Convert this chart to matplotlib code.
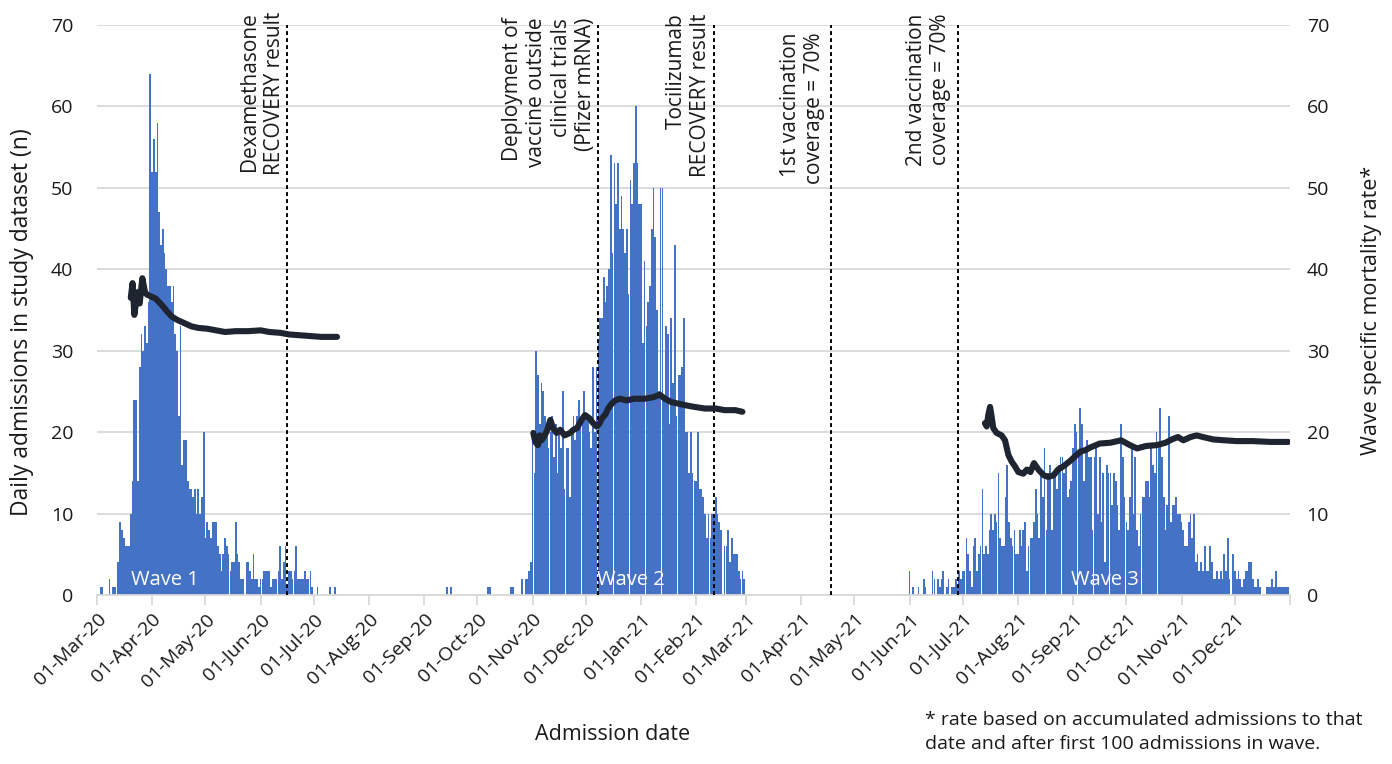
import pandas as pd
import matplotlib
matplotlib.use("Agg")
import matplotlib.pyplot as plt

plt.rcParams['font.family'] = ['Open Sans', 'DejaVu Sans']

# daily admissions (n), each list starts at its start date
wave1_start = "2020-03-03"
wave1_admissions = [
    1, 1, 0, 0, 0, 2, 0, 1, 1, 0,
    4, 9, 8, 7, 6, 6, 6, 10, 14, 24,
    24, 14, 28, 32, 30, 33, 31, 36, 64, 52,
    56, 52, 58, 47, 43, 45, 42, 40, 38, 38,
    36, 38, 32, 30, 22, 33, 16, 19, 19, 14,
    13, 13, 12, 13, 10, 13, 10, 12, 20,
    7, 9, 8, 7, 9, 9, 9, 6, 5, 3,
    5, 7, 6, 5, 3, 4, 4, 9, 5, 4,
    2, 2, 0, 4, 4, 3, 2, 5, 2, 2,
    1, 2, 2, 3, 3, 3, 3, 1, 2, 2,
    2, 3, 6, 2, 4, 6, 1, 3, 3, 2,
    3, 6, 2, 2, 2, 2, 3, 2, 2, 3,
    1, 0, 0, 1, 0, 0, 0, 0, 0, 0,
    1, 0, 0, 1,
]

autumn_dates = ["2020-09-14", "2020-09-16", "2020-10-07", "2020-10-08",
                "2020-10-20", "2020-10-21"]
autumn_admissions = [1, 1, 1, 1, 1, 1]

wave2_start = "2020-10-26"
wave2_admissions = [
    2, 0, 2, 2, 3, 4,
    20, 15, 30, 27, 21, 26, 25, 22, 21, 18,
    20, 22, 17, 21, 15, 20, 18, 25, 13, 18,
    18, 12, 20, 22, 19, 22, 24, 21, 22, 25,
    22, 22, 20, 18, 28, 20, 28, 31, 34, 34,
    39, 36, 38, 40, 54, 42, 53, 48, 53, 45,
    49, 45, 42, 45, 37, 51, 48, 53,
    60, 53, 48, 48, 31, 41, 33, 36, 38, 45,
    50, 44, 35, 25, 50, 50, 24, 33, 32, 21,
    34, 26, 43, 22, 27, 27, 28, 34, 20, 20,
    15, 20, 15, 14, 14, 20, 13, 13, 12, 10,
    7, 10, 7, 10, 10, 12, 10, 9, 8, 0,
    6, 6, 8, 4, 7, 5, 5, 5, 3, 2,
    3, 2,
]

wave3_start = "2021-06-01"
wave3_admissions = [
    3, 0, 1, 0, 0, 1, 0, 0, 2, 1, 0, 0, 0, 3, 2, 0, 2, 1, 2, 3,
    0, 1, 2, 0, 1, 1, 2, 1,
    3, 2, 3, 3, 7, 5, 3, 1, 6, 7,
    3, 5, 6, 13, 5, 6, 5, 8, 10, 8,
    10, 9, 15, 7, 6, 6, 12, 16, 9, 7,
    6, 8, 5, 5, 8, 6, 8, 9, 3, 6,
    7, 7, 9, 13, 10, 7, 15, 12, 18, 8,
    15, 16, 8, 15, 15, 13, 16, 17, 17, 15,
    16, 12, 13, 14, 18, 21, 20, 17, 23, 21,
    14, 18, 19,
    17, 17, 8, 17, 18, 10, 17, 9, 15, 4,
    16, 15, 15, 11, 15, 14, 11, 8, 21, 17,
    12, 9, 8, 12, 18, 10, 17, 8, 6, 10,
    12, 12, 14, 14, 12, 18, 16, 15, 20, 18,
    23, 17, 12, 8, 11, 22, 9, 11, 11, 12,
    10, 10, 9, 8, 6, 6, 9, 10, 7, 10,
    4, 5, 3, 4, 3, 6, 3, 3, 6, 4,
    2, 2, 3, 2, 3, 2, 5, 3, 7, 2,
    0, 5, 3, 2, 3, 2, 1, 2, 3, 3,
    4, 4, 2, 1, 1, 2, 1, 0, 0, 0,
    1, 1, 1, 2, 1, 3, 1, 1, 1, 1,
    1, 1, 1,
]

# wave specific mortality rate (%), day = days after 01-Mar-20
wave1_rate_day = [19, 20, 21, 22, 23, 24, 25.5, 27, 28, 30, 33, 36.5, 39.5, 42, 45,
                  49, 53, 57, 62, 67, 72, 78, 85, 92, 97, 103, 108, 114, 120, 126, 135]
wave1_rate = [36.5, 38.3, 34.4, 36.0, 37.2, 35.8, 38.9, 37.2, 36.9, 36.7, 36.4, 35.6,
              34.8, 34.2, 33.8, 33.4, 33.0, 32.8, 32.7, 32.5, 32.3, 32.4, 32.4, 32.5,
              32.3, 32.2, 32.0, 31.9, 31.8, 31.7, 31.7]

wave2_rate_day = [245.4, 246.5, 248, 249, 250, 251, 253, 255, 256.5, 258.5, 260.5, 263,
                  266, 268, 270, 272.5, 274.5, 277, 279, 281, 282.5, 284, 286, 287.5,
                  289.5, 291.5, 294, 298, 302, 305, 308, 313, 316.5, 319.5, 323, 327,
                  331, 336, 342, 348, 353, 359, 363]
wave2_rate = [19.9, 18.8, 18.4, 19.6, 19.0, 19.3, 20.1, 21.5, 20.5, 19.9, 20.3, 19.6,
              19.9, 20.3, 20.5, 21.5, 22.1, 21.7, 21.1, 20.7, 21.0, 21.7, 22.2, 22.9,
              23.5, 23.9, 24.1, 23.9, 24.1, 24.1, 24.1, 24.3, 24.6, 24.1, 23.7, 23.5,
              23.3, 23.1, 22.9, 22.9, 22.7, 22.7, 22.5]

wave3_rate_day = [499.4, 500.4, 501.3, 502.3, 503.2, 504.1, 506, 508.8, 510.7, 512.6,
                  514.4, 516.3, 518.2, 521, 523, 525, 527, 529.5, 532.5, 535, 538,
                  540.5, 543.5, 547, 550, 553, 556, 558.5, 564, 570, 576, 581, 585,
                  590, 596, 601, 604.5, 608, 611, 615, 618.5, 622, 628, 634, 641,
                  650, 660, 670]
wave3_rate = [21.1, 20.7, 22.1, 23.1, 21.9, 20.5, 19.9, 19.6, 19.0, 17.2, 16.4, 15.8,
              15.1, 14.9, 15.4, 15.1, 16.2, 15.4, 14.7, 14.5, 14.7, 15.4, 15.8, 16.4,
              17.0, 17.6, 17.8, 18.1, 18.6, 18.7, 19.0, 18.4, 18.0, 18.3, 18.4, 18.7,
              19.1, 19.4, 19.0, 19.4, 19.6, 19.4, 19.1, 19.0, 18.9, 18.9, 18.8, 18.8]

event_dates = ["2020-06-16", "2020-12-08", "2021-02-11", "2021-04-18", "2021-06-28"]
event_labels = [
    "Dexamethasone\nRECOVERY result",
    "Deployment of\nvaccine outside\nclinical trials\n(Pfizer mRNA)",
    "Tocilizumab\nRECOVERY result",
    "1st vaccination\ncoverage = 70%",
    "2nd vaccination\ncoverage = 70%",
]

wave_labels = ["Wave 1", "Wave 2", "Wave 3"]
wave_label_dates = ["2020-04-08", "2020-12-26", "2021-09-19"]

# build the daily series
origin = pd.Timestamp("2020-03-01")
days = pd.date_range("2020-03-01", "2021-12-31", freq="D")
counts = pd.Series(0.0, index=days)
for start, vals in [(wave1_start, wave1_admissions), (wave2_start, wave2_admissions),
                    (wave3_start, wave3_admissions)]:
    idx = pd.date_range(start, periods=len(vals), freq="D")
    counts.loc[idx] = vals
counts.loc[pd.to_datetime(autumn_dates)] = autumn_admissions

bar_color = "#4472C4"
line_color = "#1e2530"
grid_color = "#d9d9d9"
text_color = "#1a1a1a"

fig = plt.figure(figsize=(13.92, 7.64), dpi=100)
ax = fig.add_axes([97 / 1392, 1 - 595 / 764, (1290 - 97) / 1392, 570 / 764])

ax.bar(counts.index, counts.values, width=0.95, color=bar_color, linewidth=0, zorder=2)

ax.set_ylim(0, 70)
ax.set_yticks(range(0, 71, 10))
ax.set_xlim(pd.Timestamp("2020-03-01"), pd.Timestamp("2022-01-01"))
ax.yaxis.grid(True, color=grid_color, linewidth=1.3, zorder=0)
ax.set_axisbelow(True)
for s in ["top", "left", "right"]:
    ax.spines[s].set_visible(False)
ax.spines["bottom"].set_color(grid_color)
ax.spines["bottom"].set_linewidth(1.3)

month_ticks = pd.date_range("2020-03-01", "2022-01-01", freq="MS")
ax.set_xticks(month_ticks)
ax.set_xticklabels([t.strftime("%d-%b-%y") for t in month_ticks[:-1]] + [""])
ax.tick_params(axis="x", direction="out", length=7, width=1.3, color=grid_color,
               labelsize=14, labelcolor=text_color, pad=4)
plt.setp(ax.get_xticklabels(), rotation=45, ha="right", va="top", rotation_mode="anchor")
ax.tick_params(axis="y", length=0, labelsize=14, labelcolor=text_color, pad=17)

# event lines and labels
top_y = [71.6, 70.9, 71.4, 69.1, 71.4]
shift = [1.5, 1.5, 1.5, 3.5, 3.5]
for d, lab, ty, sh in zip(event_dates, event_labels, top_y, shift):
    t = pd.Timestamp(d)
    ax.axvline(t, color="black", linestyle=(0, (2, 1.6)), linewidth=1.4, zorder=3)
    ax.text(t - pd.Timedelta(days=sh), ty, lab, rotation=90, ha="right", va="top",
            multialignment="right", fontsize=15, color=text_color, linespacing=1.2,
            zorder=4)

for lab, d in zip(wave_labels, wave_label_dates):
    ax.text(pd.Timestamp(d), 1.9, lab, color="white", ha="center", va="center",
            fontsize=14.5, zorder=4)

# mortality rate on the right axis
ax2 = ax.twinx()
ax2.set_position(ax.get_position())
for dd, rr in [(wave1_rate_day, wave1_rate), (wave2_rate_day, wave2_rate),
               (wave3_rate_day, wave3_rate)]:
    xs = origin + pd.to_timedelta(dd, unit="D")
    ax2.plot(xs, rr, color=line_color, linewidth=4.4, solid_capstyle="round",
             solid_joinstyle="round", zorder=5)
ax2.set_ylim(0, 70)
ax2.set_yticks(range(0, 71, 10))
for s in ["top", "left", "right", "bottom"]:
    ax2.spines[s].set_visible(False)
ax2.tick_params(axis="y", length=0, labelsize=14, labelcolor=text_color, pad=12)

fig.text(22 / 1392, 1 - 322 / 764, "Daily admissions in study dataset (n)", rotation=90,
         ha="center", va="center", fontsize=16.5, color=text_color)
fig.text(1372 / 1392, 1 - 310 / 764, "Wave specific mortality rate*", rotation=90,
         ha="center", va="center", fontsize=15.5, color=text_color)
fig.text(613 / 1392, 1 - 735 / 764, "Admission date", ha="center", va="center",
         fontsize=15.5, color=text_color)
fig.text(925 / 1392, 1 - 711 / 764,
         "* rate based on accumulated admissions to that\n"
         "date and after first 100 admissions in wave.",
         ha="left", va="top", fontsize=14, color=text_color, linespacing=1.45)

fig.savefig("out.png", dpi=100)
